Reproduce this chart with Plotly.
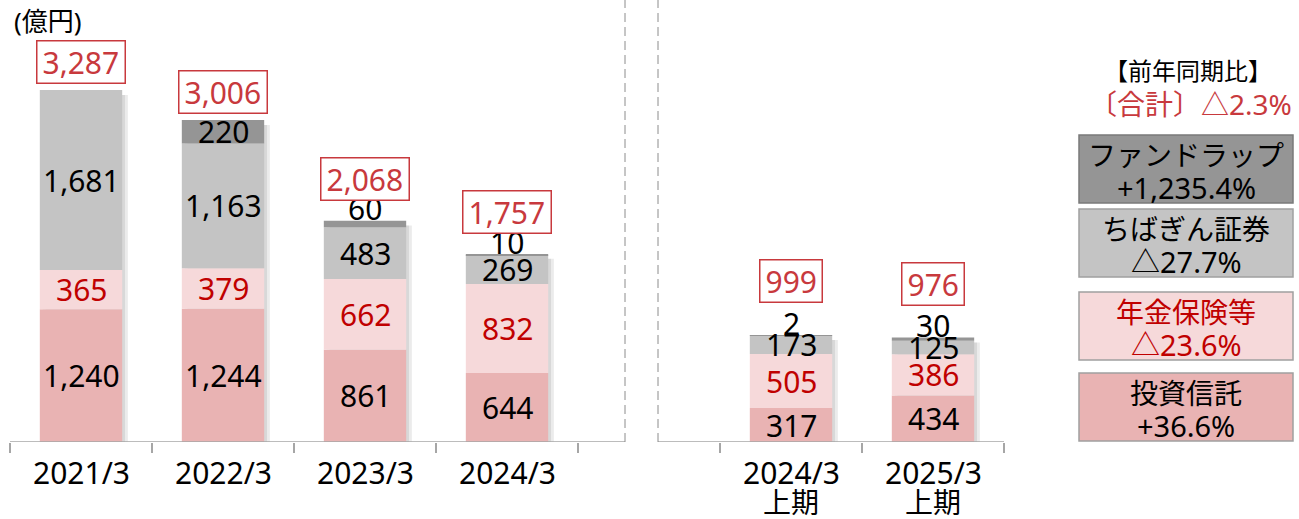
import plotly.graph_objects as go

# ---------------- data ----------------
periods = ["2021/3", "2022/3", "2023/3", "2024/3", "2024/3", "2025/3"]
period_sub = ["", "", "", "", "上期", "上期"]
toushin = [1240, 1244, 861, 644, 317, 434]        # 投資信託
nenkin = [365, 379, 662, 832, 505, 386]           # 年金保険等
chibagin = [1681, 1163, 483, 269, 173, 125]       # ちばぎん証券
fundwrap = [0, 220, 60, 10, 2, 30]                # ファンドラップ
totals = [3287, 3006, 2068, 1757, 999, 976]       # 合計

series_names = ["投資信託", "年金保険等", "ちばぎん証券", "ファンドラップ"]
yoy_title = "【前年同期比】"
yoy_total = "〔合計〕△2.3%"
yoy_changes = ["+36.6%", "△23.6%", "△27.7%", "+1,235.4%"]
unit_label = "(億円)"

# ---------------- style ----------------
FONT = "Noto Sans, Noto Sans CJK JP, sans-serif"
colors = ["#E9B3B3", "#F6D9DA", "#C4C4C4", "#959595"]
label_colors = ["#000000", "#C00000", "#000000", "#000000"]
legend_borders = ["#A0A0A0", "#A0A0A0", "#A0A0A0", "#7A7A7A"]
legend_text_colors = ["#000000", "#C00000", "#000000", "#000000"]
RED = "#C8393D"
AXIS = "#A6A6A6"
W, H = 1299, 519
L, R, T, B = 10, 295, 0, 77
BAR_W = 0.58
Y_MAX = 4127
FS = 30

# x slot per period (one empty slot between annual and half-year groups)
n_annual = 4
xs = [i if i < n_annual else i + 1 for i in range(len(periods))]

plot_w = W - L - R
plot_h = H - T - B


def px(xpix):
    return (xpix - L) / plot_w


def py(ypix):
    return (H - B - ypix) / plot_h


def xunit(xpix):
    return (xpix - L) / plot_w * 7 - 0.5


fig = go.Figure()

stack = [toushin, nenkin, chibagin, fundwrap]
sums = [sum(v[i] for v in stack) for i in range(len(periods))]

# soft shadow behind bars
fig.add_trace(go.Bar(
    x=xs, y=[s - 20 for s in sums], base=[-25] * len(xs),
    width=BAR_W, offset=-BAR_W / 2 + 0.04,
    marker=dict(color="rgba(0,0,0,0.08)", line=dict(width=0)),
    hoverinfo="skip", showlegend=False,
))
fig.add_trace(go.Bar(
    x=xs, y=[s - 30 for s in sums], base=[-15] * len(xs),
    width=BAR_W, offset=-BAR_W / 2 + 0.02,
    marker=dict(color="rgba(0,0,0,0.08)", line=dict(width=0)),
    hoverinfo="skip", showlegend=False,
))

annotations = []
base = [0] * len(periods)
for k, vals in enumerate(stack):
    fig.add_trace(go.Bar(
        x=xs, y=vals, base=list(base), name=series_names[k],
        width=BAR_W, offset=-BAR_W / 2,
        marker=dict(color=colors[k], line=dict(width=0)),
        showlegend=False,
    ))
    for i, v in enumerate(vals):
        if v <= 0:
            continue
        small_top = (k == 3 and v < 100)
        annotations.append(dict(
            x=xs[i], y=(base[i] + v) if small_top else (base[i] + v / 2),
            xref="x", yref="y", xanchor="center", yanchor="middle",
            yshift=12 if small_top else 0,
            text=f"{v:,}", showarrow=False,
            font=dict(family=FONT, size=FS, color=label_colors[k]),
        ))
    base = [b + v for b, v in zip(base, vals)]

# boxed totals
for i, t in enumerate(totals):
    shift = 28 if (fundwrap[i] >= 100 or fundwrap[i] == 0) else 42
    if i >= n_annual:
        shift = 54
    annotations.append(dict(
        x=xs[i], y=sums[i], xref="x", yref="y",
        xanchor="center", yanchor="middle", yshift=shift,
        text="\u2009" + f"{t:,}" + "\u2009", showarrow=False,
        font=dict(family=FONT, size=FS, color=RED),
        bordercolor=RED, borderwidth=1.5, borderpad=0, bgcolor="white",
    ))

# category labels (two lines for half-year periods)
for i in range(len(periods)):
    annotations.append(dict(
        x=xs[i], y=py(472), xref="x", yref="paper",
        xanchor="center", yanchor="middle",
        text=periods[i], showarrow=False,
        font=dict(family=FONT, size=FS, color="black"),
    ))
    if period_sub[i]:
        annotations.append(dict(
            x=xs[i], y=py(502), xref="x", yref="paper",
            xanchor="center", yanchor="middle",
            text=period_sub[i], showarrow=False,
            font=dict(family=FONT, size=28, color="black"),
        ))

# unit label
annotations.append(dict(
    x=px(12), y=py(21), xref="paper", yref="paper",
    xanchor="left", yanchor="middle",
    text=unit_label, showarrow=False,
    font=dict(family=FONT, size=26, color="black"),
))

# right side YoY panel
annotations.append(dict(
    x=px(1188), y=py(70), xref="paper", yref="paper",
    xanchor="center", yanchor="middle",
    text=yoy_title, showarrow=False,
    font=dict(family=FONT, size=24, color="black"),
))
annotations.append(dict(
    x=px(1190), y=py(104), xref="paper", yref="paper",
    xanchor="center", yanchor="middle",
    text=yoy_total, showarrow=False,
    font=dict(family=FONT, size=28, color=RED),
))

shapes = []
box_tops = [373, 292, 209, 135]
BOX_H = 68
for k in range(4):
    top = box_tops[k]
    shapes.append(dict(
        type="rect", xref="paper", yref="paper",
        x0=px(1079), x1=px(1293), y0=py(top + BOX_H), y1=py(top),
        fillcolor=colors[k], line=dict(color=legend_borders[k], width=1.5),
        layer="below",
    ))
    annotations.append(dict(
        x=px(1186), y=py(top + 20), xref="paper", yref="paper",
        xanchor="center", yanchor="middle",
        text=series_names[k], showarrow=False,
        font=dict(family=FONT, size=28, color=legend_text_colors[k]),
    ))
    annotations.append(dict(
        x=px(1186), y=py(top + 52), xref="paper", yref="paper",
        xanchor="center", yanchor="middle",
        text=yoy_changes[k], showarrow=False,
        font=dict(family=FONT, size=29, color=legend_text_colors[k]),
    ))

# axis line (with gap between groups) and dashed separators
gap_l, gap_r = xunit(625), xunit(658)
shapes += [
    dict(type="line", xref="x", yref="y", x0=-0.5, x1=gap_l, y0=0, y1=0,
         line=dict(color=AXIS, width=1.5)),
    dict(type="line", xref="x", yref="y", x0=gap_r, x1=6.5, y0=0, y1=0,
         line=dict(color=AXIS, width=1.5)),
    dict(type="line", xref="x", yref="y", x0=gap_l, x1=gap_l, y0=0, y1=Y_MAX,
         line=dict(color="#8C8C8C", width=1, dash="9px,5px")),
    dict(type="line", xref="x", yref="y", x0=gap_r, x1=gap_r, y0=0, y1=Y_MAX,
         line=dict(color="#8C8C8C", width=1, dash="9px,5px")),
]

fig.update_layout(
    width=W, height=H,
    margin=dict(l=L, r=R, t=T, b=B),
    barmode="overlay",
    paper_bgcolor="white", plot_bgcolor="white",
    showlegend=False,
    annotations=annotations,
    shapes=shapes,
    xaxis=dict(
        range=[-0.5, 6.5], tickmode="array", tickvals=xs, ticktext=[""] * len(xs),
        showticklabels=False,
        ticks="", showgrid=False, zeroline=False, showline=False,
        minor=dict(tickmode="array", tickvals=[i - 0.5 for i in range(8)],
                   ticks="outside", ticklen=10, tickcolor=AXIS, tickwidth=1.5,
                   showgrid=False),
        fixedrange=True,
    ),
    yaxis=dict(range=[0, Y_MAX], visible=False, fixedrange=True),
)

fig.write_html("out.html", config={"displayModeBar": False},
               post_script="document.body.style.margin='0';")
